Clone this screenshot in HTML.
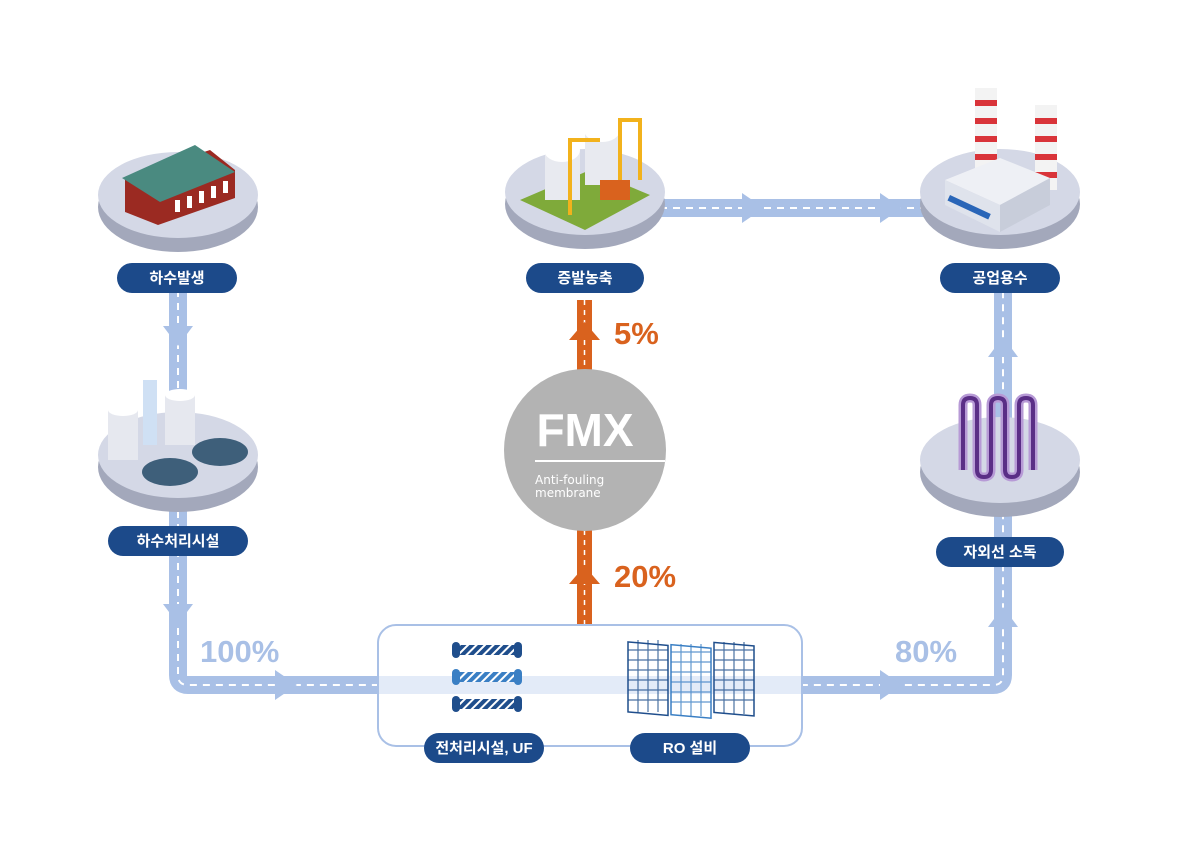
<!DOCTYPE html>
<html><head><meta charset="utf-8"><style>
body{margin:0;background:#fff}
svg{display:block}
.lbl{font-family:"Liberation Sans","Noto Sans CJK KR",sans-serif;font-weight:bold;font-size:15px;fill:#fff;text-anchor:middle}
.pct{font-family:"Liberation Sans",sans-serif;font-weight:bold;font-size:31px}
</style></head><body>
<svg width="1200" height="854" viewBox="0 0 1200 854" xmlns="http://www.w3.org/2000/svg">
<defs>
<g id="disc"><ellipse cx="0" cy="12" rx="80" ry="45" fill="#a3a8bb"/><ellipse cx="0" cy="0" rx="80" ry="43" fill="#d4d8e6"/></g>
<pattern id="hatch" width="6" height="6" patternUnits="userSpaceOnUse" patternTransform="rotate(45)"><rect width="6" height="6" fill="#1f4e8c"/><rect width="2" height="6" fill="#fff"/></pattern>
<pattern id="hatch2" width="6" height="6" patternUnits="userSpaceOnUse" patternTransform="rotate(45)"><rect width="6" height="6" fill="#3a7fc4"/><rect width="2" height="6" fill="#fff"/></pattern>
</defs>
<g fill="none" stroke="#a9c0e6" stroke-width="18" stroke-linejoin="round">
<path d="M178 290 V675 Q178 685 188 685 H993 Q1003 685 1003 675 V290"/>
<path d="M660 208 H925"/>
</g>
<g fill="none" stroke="#fff" stroke-width="2" stroke-dasharray="7 6">
<path d="M178 290 V675 Q178 685 188 685 H993 Q1003 685 1003 675 V290"/>
<path d="M660 208 H925"/>
</g>
<rect x="378" y="676" width="424" height="18" fill="#e3ebf8"/>
<g fill="#a9c0e6">
<polygon points="163,326 193,326 178,346"/>
<polygon points="163,604 193,604 178,624"/>
<polygon points="275,670 275,700 297,685"/>
<polygon points="880,670 880,700 902,685"/>
<polygon points="988,627 1018,627 1003,607"/>
<polygon points="988,357 1018,357 1003,337"/>
<polygon points="742,193 742,223 764,208"/>
<polygon points="880,193 880,223 902,208"/>
</g>
<rect x="577" y="300" width="15" height="325" fill="#d9621e"/>
<line x1="584.5" y1="300" x2="584.5" y2="625" stroke="#fff" stroke-width="1.5" stroke-dasharray="5 5"/>
<polygon points="569,340 600,340 584.5,322" fill="#d9621e"/>
<polygon points="569,584 600,584 584.5,566" fill="#d9621e"/>
<text class="pct" x="614" y="344" fill="#d9621e">5%</text>
<text class="pct" x="614" y="587" fill="#d9621e">20%</text>
<text class="pct" x="200" y="662" fill="#a9c0e6">100%</text>
<text class="pct" x="895" y="662" fill="#a9c0e6">80%</text>
<circle cx="585" cy="450" r="81" fill="#b3b3b3"/>
<line x1="535" y1="461" x2="665" y2="461" stroke="#fff" stroke-width="2"/>
<text x="585" y="446" font-family="Liberation Sans,sans-serif" font-weight="bold" font-size="46" fill="#fff" text-anchor="middle">FMX</text>
<text x="535" y="484" font-family="DejaVu Sans,sans-serif" font-size="12" fill="#fff">Anti-fouling</text>
<text x="535" y="497" font-family="DejaVu Sans,sans-serif" font-size="12" fill="#fff">membrane</text>
<use href="#disc" x="178" y="195"/>
<use href="#disc" x="178" y="455"/>
<use href="#disc" x="585" y="192"/>
<use href="#disc" x="1000" y="192"/>
<use href="#disc" x="1000" y="460"/>
<polygon points="125,178 210,150 235,170 235,198 158,225 125,212" fill="#9b2a22"/>
<polygon points="122,178 195,145 235,172 160,202" fill="#4a8a80"/>
<g fill="#fff"><rect x="175" y="200" width="5" height="12"/><rect x="187" y="196" width="5" height="12"/><rect x="199" y="191" width="5" height="12"/><rect x="211" y="186" width="5" height="12"/><rect x="223" y="181" width="5" height="12"/></g>
<rect x="108" y="410" width="30" height="50" fill="#e6e8ef"/><ellipse cx="123" cy="410" rx="15" ry="6" fill="#fff"/>
<rect x="165" y="395" width="30" height="50" fill="#e6e8ef"/><ellipse cx="180" cy="395" rx="15" ry="6" fill="#fff"/>
<rect x="143" y="380" width="14" height="65" fill="#cfe0f4"/>
<ellipse cx="170" cy="472" rx="28" ry="14" fill="#3e5f7a"/><ellipse cx="220" cy="452" rx="28" ry="14" fill="#3e5f7a"/>
<polygon points="520,200 590,170 650,195 585,230" fill="#7faa3a"/>
<rect x="545" y="150" width="35" height="50" fill="#e8eaf0"/><ellipse cx="562" cy="150" rx="18" ry="12" fill="#fff"/>
<rect x="585" y="130" width="35" height="55" fill="#e8eaf0"/><ellipse cx="602" cy="130" rx="18" ry="12" fill="#fff"/>
<path d="M570 215 V140 H600 M620 200 V120 H640 V180" fill="none" stroke="#f2b21c" stroke-width="4"/>
<rect x="600" y="180" width="30" height="20" fill="#d9621e"/>
<rect x="975" y="88" width="22" height="95" fill="#f3f3f3"/><rect x="1035" y="105" width="22" height="85" fill="#f3f3f3"/>
<g fill="#d9343a"><rect x="975" y="100" width="22" height="6"/><rect x="975" y="118" width="22" height="6"/><rect x="975" y="136" width="22" height="6"/><rect x="975" y="154" width="22" height="6"/><rect x="1035" y="118" width="22" height="6"/><rect x="1035" y="136" width="22" height="6"/><rect x="1035" y="154" width="22" height="6"/><rect x="1035" y="172" width="22" height="6"/></g>
<polygon points="945,180 1000,158 1050,178 1000,205" fill="#eef0f5"/>
<polygon points="945,180 945,205 1000,232 1000,205" fill="#dfe3ec"/>
<polygon points="1000,205 1050,178 1050,205 1000,232" fill="#c8cdda"/>
<rect x="950" y="195" width="45" height="6" fill="#2a66b8" transform="rotate(25 950 195)"/>
<path d="M963 470 V405 Q963 398 970 398 Q977 398 977 405 V470 Q977 477 984 477 Q991 477 991 470 V405 Q991 398 998 398 Q1005 398 1005 405 V470 Q1005 477 1012 477 Q1019 477 1019 470 V405 Q1019 398 1026 398 Q1033 398 1033 405 V470" fill="none" stroke="#b79ad6" stroke-width="9"/>
<path d="M963 470 V405 Q963 398 970 398 Q977 398 977 405 V470 Q977 477 984 477 Q991 477 991 470 V405 Q991 398 998 398 Q1005 398 1005 405 V470 Q1005 477 1012 477 Q1019 477 1019 470 V405 Q1019 398 1026 398 Q1033 398 1033 405 V470" fill="none" stroke="#5a2e86" stroke-width="4"/>
<rect x="378" y="625" width="424" height="121" rx="18" fill="none" stroke="#a9c0e6" stroke-width="2"/>
<g>
<rect x="458" y="645" width="58" height="10" fill="url(#hatch)"/><rect x="452" y="642" width="8" height="16" rx="4" fill="#1f4e8c"/><rect x="514" y="642" width="8" height="16" rx="4" fill="#1f4e8c"/>
<rect x="458" y="672" width="58" height="10" fill="url(#hatch2)"/><rect x="452" y="669" width="8" height="16" rx="4" fill="#3a7fc4"/><rect x="514" y="669" width="8" height="16" rx="4" fill="#3a7fc4"/>
<rect x="458" y="699" width="58" height="10" fill="url(#hatch)"/><rect x="452" y="696" width="8" height="16" rx="4" fill="#1f4e8c"/><rect x="514" y="696" width="8" height="16" rx="4" fill="#1f4e8c"/>
</g>
<g fill="none" stroke-width="1.5">
<rect x="628" y="642" width="40" height="70" stroke="#1f4e8c" transform="skewY(5) translate(0,-55)"/>
<rect x="671" y="645" width="40" height="70" stroke="#3a7fc4" transform="skewY(5) translate(0,-59)"/>
<rect x="714" y="643" width="40" height="70" stroke="#1f4e8c" transform="skewY(5) translate(0,-63)"/>
</g>
<g stroke="#1f4e8c" stroke-width="1.2" opacity="0.8">
<path d="M628 650 h40 M628 660 h40 M628 670 h40 M628 680 h40 M628 690 h40 M628 700 h40 M638 640 v72 M648 640 v72 M658 640 v72"/>
<path d="M714 650 h40 M714 660 h40 M714 670 h40 M714 680 h40 M714 690 h40 M714 700 h40 M724 642 v72 M734 642 v72 M744 642 v72" />
<path stroke="#3a7fc4" d="M671 652 h40 M671 662 h40 M671 672 h40 M671 682 h40 M671 692 h40 M671 702 h40 M681 644 v72 M691 644 v72 M701 644 v72"/>
</g>
<g fill="#1c4a8a">
<rect x="117" y="263" width="120" height="30" rx="15"/>
<rect x="108" y="526" width="140" height="30" rx="15"/>
<rect x="526" y="263" width="118" height="30" rx="15"/>
<rect x="940" y="263" width="120" height="30" rx="15"/>
<rect x="936" y="537" width="128" height="30" rx="15"/>
<rect x="424" y="733" width="120" height="30" rx="15"/>
<rect x="630" y="733" width="120" height="30" rx="15"/>
</g>
<text class="lbl" x="177" y="283">하수발생</text>
<text class="lbl" x="178" y="546">하수처리시설</text>
<text class="lbl" x="585" y="283">증발농축</text>
<text class="lbl" x="1000" y="283">공업용수</text>
<text class="lbl" x="1000" y="557">자외선 소독</text>
<text class="lbl" x="484" y="753">전처리시설, UF</text>
<text class="lbl" x="690" y="753">RO 설비</text>
</svg>
</body></html>
